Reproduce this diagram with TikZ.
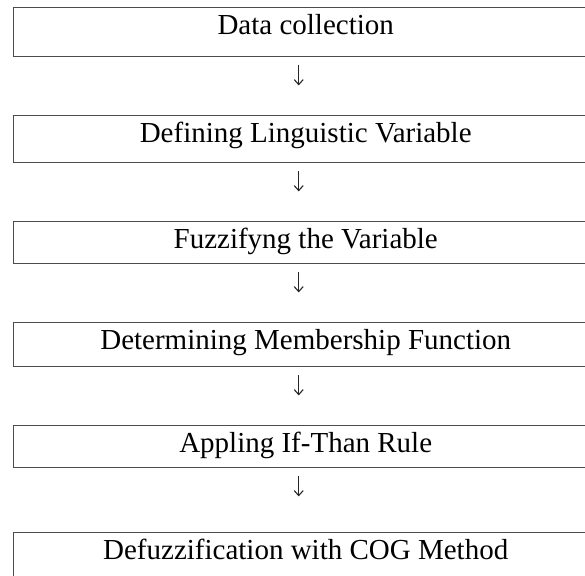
\documentclass[tikz,border=0pt]{standalone}
\usepackage{fontspec}
\setmainfont{Liberation Serif}
\usetikzlibrary{arrows.meta,calc}
\begin{document}
\begin{tikzpicture}[x=1pt,y=-1pt,
  stepbox/.style={draw=black!70, line width=1.4pt, rectangle, anchor=north west,
    minimum width=584pt, inner xsep=0pt, inner ysep=0pt, text height=26.5pt,
    font=\fontsize{29}{33}\selectfont},
  flowarrow/.style={draw=black!85, line width=1.1pt, -{Straight Barb[length=5pt,width=9pt]}}]
\useasboundingbox (0,0) rectangle (585,575);
\clip (0,0) rectangle (585,575);
\node[stepbox, text depth=22.5pt] (b1) at (13,7) {Data collection};
\node[stepbox, text depth=20.5pt] (b2) at (13,115) {Defining Linguistic Variable};
\node[stepbox, text depth=15.5pt] (b3) at (13,221) {Fuzzifyng the Variable};
\node[stepbox, text depth=17.5pt] (b4) at (13,322) {Determining Membership Function};
\node[stepbox, text depth=15.5pt] (b5) at (13,425) {Appling If-Than Rule};
\node[stepbox, text depth=50pt] (b6) at (13,532) {Defuzzification with COG Method};
\foreach \a/\b in {b1/b2,b2/b3,b3/b4,b4/b5,b5/b6}{
  \coordinate (s\a) at ($(\a.south)+(-7,8)$);
  \coordinate (e\a) at ($(\a.south)+(-7,28)$);
  \draw[flowarrow] (s\a) -- (e\a);
}
\end{tikzpicture}
\end{document}
